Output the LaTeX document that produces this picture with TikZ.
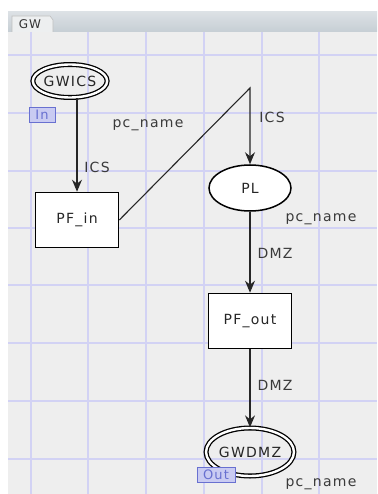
\documentclass[tikz,border=0pt]{standalone}
\usepackage{fontspec}
\setmainfont{DejaVu Sans}[LetterSpace=9]
\usetikzlibrary{arrows.meta,shapes.geometric}
\definecolor{canvas}{HTML}{EEEEEE}
\definecolor{gridc}{HTML}{D2D2F4}
\definecolor{tabbar}{HTML}{C6CED4}
\definecolor{tabtop}{HTML}{DCE1E5}
\definecolor{tabc}{HTML}{EDEFF0}
\definecolor{portfill}{HTML}{C9CBF2}
\definecolor{portdraw}{HTML}{6870D0}
\definecolor{labc}{HTML}{3A3A3A}
\tikzset{
  txt/.style={font=\fontsize{14}{16}\selectfont, text=black!85, inner sep=0pt},
  lab/.style={font=\fontsize{14}{16}\selectfont, text=labc, inner sep=0pt},
  place/.style={ellipse, draw=black, line width=1.5pt, fill=white, txt},
  ioplace/.style={ellipse, draw=black, double=white, double distance=2.4pt, line width=1.3pt, txt},
  trans/.style={rectangle, draw=black, line width=1.6pt, fill=white, txt, minimum width=83pt, minimum height=55pt},
  port/.style={rectangle, draw=portdraw, fill=portfill, line width=0.9pt, font=\fontsize{13}{15}\selectfont, text=portdraw, inner sep=0pt, minimum height=15pt},
  arc/.style={draw=black!85, line width=1.1pt, -{Stealth[length=12pt, width=10pt, inset=4pt]}},
  gridline/.style={draw=gridc, line width=1.1pt}
}
\begin{document}
\begin{tikzpicture}[x=1pt,y=-1pt]
\useasboundingbox (0,0) rectangle (377,494);
\fill[white] (0,0) rectangle (377,494);
% canvas
\fill[canvas] (8,32) rectangle (377,494);
% tab bar
\shade[top color=tabtop, bottom color=tabbar] (8,12) rectangle (377,32);
\fill[tabc] (12,32) -- (12,16) -- (50,16) -- (53,20) -- (53,32) -- cycle;
\draw[black!25, line width=0.6pt] (12,32) -- (12,16) -- (50,16) -- (53,20) -- (53,32);
\node[font=\fontsize{12}{14}\selectfont, text=black!80, inner sep=0pt] (tabtext) at (30,24.5) {GW};
% grid
\foreach \gx in {31,88,146,204,262,319} { \draw[gridline] (\gx,32) -- (\gx,494); }
\foreach \gy in {55,113,171,228,285,343,401,459} { \draw[gridline] (8,\gy) -- (377,\gy); }

% nodes
\node[ioplace, minimum width=70pt, minimum height=33pt] (gwics) at (70,81) {GWICS};
\node[port, minimum width=26pt] (inport) at (42,115) {In};
\node[trans] (pfin) at (77,220) {PF\_in};
\node[place, minimum width=82pt, minimum height=46pt] (pl) at (250,188) {PL};
\node[trans] (pfout) at (250,321) {PF\_out};
\node[ioplace, minimum width=78pt, minimum height=48pt] (gwdmz) at (250,452) {GWDMZ};
\node[port, minimum width=38pt] (outport) at (216,475) {Out};
\coordinate (bend) at (250,88);

% arcs
\draw[arc] (gwics.south -| pfin.north) -- (pfin.north);
\draw[arc] (pfin.east) -- (bend) -- (pl.north);
\draw[arc] (pl) -- (pfout);
\draw[arc] (pfout) -- (gwdmz);

% labels
\node[lab] (l1) at (148,125) {pc\_name};
\node[lab] (l2) at (97,167) {ICS};
\node[lab] (l3) at (272,117) {ICS};
\node[lab] (l4) at (321,219) {pc\_name};
\node[lab] (l5) at (275,253) {DMZ};
\node[lab] (l6) at (275,385) {DMZ};
\node[lab] (l7) at (321,484) {pc\_name};
\end{tikzpicture}
\end{document}
